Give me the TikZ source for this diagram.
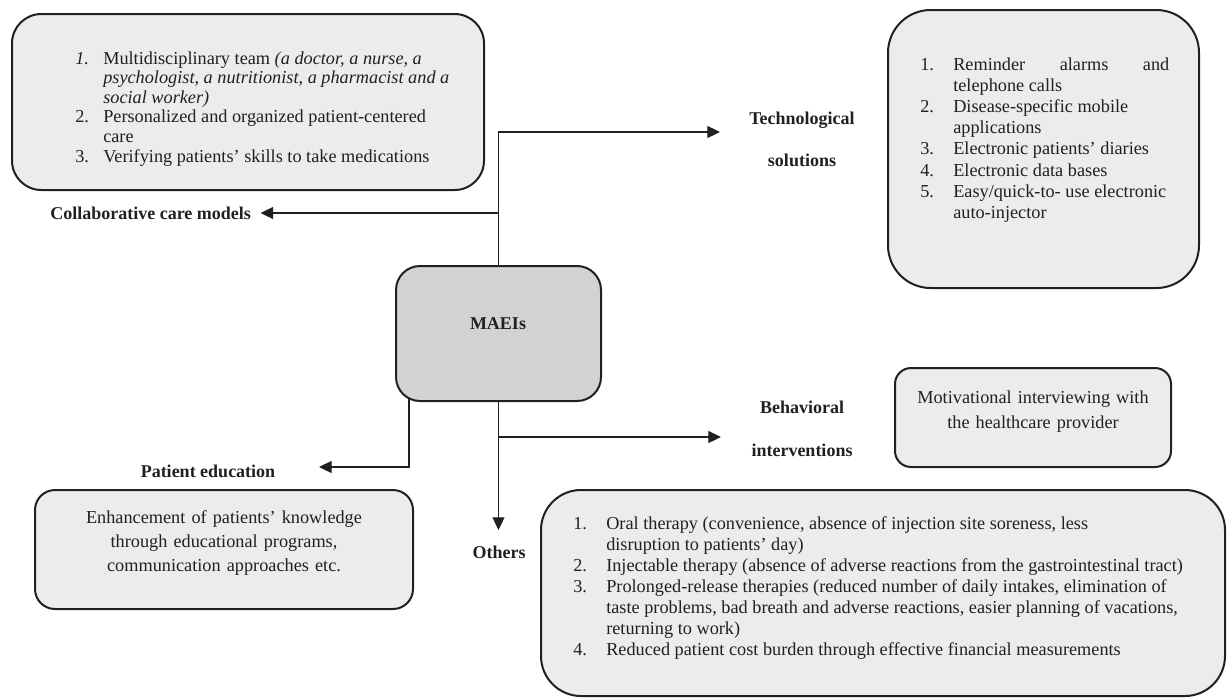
\documentclass[tikz,border=0pt]{standalone}
\usepackage{fontspec}
\setmainfont{Liberation Serif}
\usetikzlibrary{arrows.meta,fit}
\definecolor{ink}{HTML}{231F20}
\definecolor{boxfill}{HTML}{ECECEC}
\definecolor{maeifill}{HTML}{D1D2D4}
\newcommand{\bodyfont}[1]{\fontsize{13.7pt}{#1}\selectfont\lineskiplimit=-30pt\relax}
\newcommand{\numc}[2]{\makebox[#1][l]{#2}}
\begin{document}
\begin{tikzpicture}[x=0.75pt,y=-0.75pt,
  panel/.style={draw=ink, line width=1.5pt, fill=boxfill, inner sep=0pt, text=ink},
  conn/.style={draw=ink, line width=0.8pt},
  arr/.style={conn, -{Triangle[length=9.5pt,width=9pt]}},
  lbl/.style={font=\fontsize{13.5pt}{32pt}\selectfont\bfseries, align=center, inner sep=0pt, text=ink},
  txt/.style={inner sep=0pt, text=ink}
]
\useasboundingbox (0,0) rectangle (1227,697);

% boxes
\node[panel, rounded corners=22pt, fit={(12,14) (484,190)}] (collab) {};
\node[panel, rounded corners=32pt, fit={(888,10) (1199,288)}] (tech) {};
\node[panel, fill=maeifill, rounded corners=18pt, fit={(396,266) (601,401)}] (maei) {};
\node[panel, rounded corners=12pt, fit={(895,368) (1171,467)}, align=center,
      font=\bodyfont{18.75pt}] (motiv) {Motivational interviewing with\\the healthcare provider};
\node[panel, rounded corners=15pt, fit={(35,490) (413,609)}, align=center,
      font=\bodyfont{18pt}] (pated) {Enhancement of patients’ knowledge\\through educational programs,\\communication approaches etc.};
\node[panel, rounded corners=30pt, fit={(541,490) (1225,696)}] (others) {};

% box texts
\node[txt, anchor=base west] (collabtxt) at (75,64) {\parbox[t]{400pt}{\bodyfont{14.7pt}%
\numc{21pt}{\textit{1.}}Multidisciplinary team \textit{(a doctor, a nurse, a}\\
\hspace*{21pt}\textit{psychologist, a nutritionist, a pharmacist and a}\\
\hspace*{21pt}\textit{social worker)}\\
\numc{21pt}{2.}Personalized and organized patient-centered\\
\hspace*{21pt}care\\
\numc{21pt}{3.}Verifying patients’ skills to take medications}};

\node[txt, anchor=base west] (techtxt) at (920,70) {\parbox[t]{300pt}{\bodyfont{15.9pt}%
\numc{24.75pt}{1.}\makebox[162pt]{Reminder\hfill alarms\hfill and}\\
\hspace*{24.75pt}telephone calls\\
\numc{24.75pt}{2.}Disease-specific mobile\\
\hspace*{24.75pt}applications\\
\numc{24.75pt}{3.}Electronic patients’ diaries\\
\numc{24.75pt}{4.}Electronic data bases\\
\numc{24.75pt}{5.}Easy/quick-to- use electronic\\
\hspace*{24.75pt}auto-injector}};

\node[txt, anchor=base west] (otherstxt) at (573,529) {\parbox[t]{600pt}{\bodyfont{15.75pt}%
\numc{24.75pt}{1.}Oral therapy (convenience, absence of injection site soreness, less\\
\hspace*{24.75pt}disruption to patients’ day)\\
\numc{24.75pt}{2.}Injectable therapy (absence of adverse reactions from the gastrointestinal tract)\\
\numc{24.75pt}{3.}Prolonged-release therapies (reduced number of daily intakes, elimination of\\
\hspace*{24.75pt}taste problems, bad breath and adverse reactions, easier planning of vacations,\\
\hspace*{24.75pt}returning to work)\\
\numc{24.75pt}{4.}Reduced patient cost burden through effective financial measurements}};

% labels
\node[lbl] (maeilbl) at (498,324) {MAEIs};
\node[lbl] (techlbl) at (802,139.5) {Technological\\solutions};
\node[lbl] (behlbl) at (802,429) {Behavioral\\interventions};
\node[lbl, anchor=west] (ccmlbl) at (50,213) {Collaborative care models};
\node[lbl] (pelbl) at (208,471) {Patient education};
\node[lbl] (othlbl) at (499,552) {Others};

% connector end points
\coordinate (techtip) at (720,132);
\coordinate (ccmtip) at ([xshift=7pt]ccmlbl.east);
\coordinate (behtip) at (721,437);
\coordinate (othtip) at (498.5,530);
\coordinate (petip) at (319,467);
\coordinate (pestart) at (409,398);

% connectors
\draw[arr] (maei.north) |- (techtip);
\draw[arr] (maei.north |- ccmtip) -- (ccmtip);
\draw[arr] (maei.south) -- (othtip);
\draw[arr] (maei.south |- behtip) -- (behtip);
\draw[arr] (pestart) |- (petip);
\end{tikzpicture}
\end{document}
